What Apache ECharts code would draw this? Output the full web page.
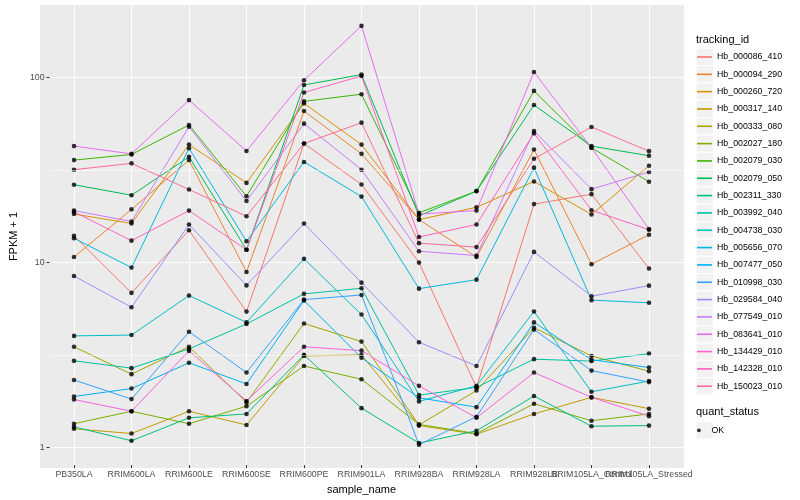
<!DOCTYPE html>
<html><head><meta charset="utf-8">
<script src="https://cdn.jsdelivr.net/npm/echarts@6/dist/echarts.min.js"></script>
<style>html,body{margin:0;padding:0;background:#fff}#c{width:800px;height:500px}</style>
</head><body><div id="c"></div>
<script>
const categories = ['PB350LA','RRIM600LA','RRIM600LE','RRIM600SE','RRIM600PE','RRIM901LA','RRIM928BA','RRIM928LA','RRIM928LB','RRIM105LA_Control','RRIM105LA_Stressed'];
const trackingIds = ['Hb_000086_410','Hb_000094_290','Hb_000260_720','Hb_000317_140','Hb_000333_080','Hb_002027_180','Hb_002079_030','Hb_002079_050','Hb_002311_330','Hb_003992_040','Hb_004738_030','Hb_005656_070','Hb_007477_050','Hb_010998_030','Hb_029584_040','Hb_077549_010','Hb_083641_010','Hb_134429_010','Hb_142328_010','Hb_150023_010'];
const colors = ['#F8766D','#EA8331','#D89000','#C09B00','#A3A500','#7CAE00','#39B600','#00BB4E','#00BF7D','#00C1A3','#00BFC4','#00BAE0','#00B0F6','#35A2FF','#9590FF','#C77CFF','#E76BF3','#FA62DB','#FF62BC','#FF6C91'];

// FPKM + 1 per sample (order of categories)
const Hb_000086_410 = [13.7, 6.7, 14.7, 5.3, 43.6, 26.1, 9.8, 2.05, 20.4, 23.1, 9.1];
const Hb_000094_290 = [10.5, 19.1, 35.4, 8.7, 65.5, 38.3, 16.8, 10.5, 40.4, 9.6, 13.9];
const Hb_000260_720 = [18.0, 16.0, 43.0, 26.6, 72.1, 43.0, 16.8, 19.6, 27.1, 17.9, 33.0];
const Hb_000317_140 = [1.22, 1.15, 1.52, 1.28, 3.04, 3.08, 1.27, 1.14, 1.47, 1.81, 1.57];
const Hb_000333_080 = [3.41, 2.42, 3.41, 1.70, 4.57, 3.64, 1.28, 1.97, 4.33, 3.04, 2.51];
const Hb_002027_180 = [1.30, 1.52, 1.30, 1.62, 2.68, 2.27, 1.29, 1.15, 1.67, 1.35, 1.47];
const Hb_002079_030 = [35.4, 38.0, 55.0, 22.5, 73.9, 80.9, 18.3, 24.0, 84.3, 41.3, 27.0];
const Hb_002079_050 = [26.0, 22.8, 36.9, 11.5, 90.8, 103.4, 17.6, 24.0, 70.6, 42.2, 37.4];
const Hb_002311_330 = [1.25, 1.05, 1.40, 1.47, 3.08, 1.58, 1.02, 1.19, 1.84, 1.26, 1.27];
const Hb_003992_040 = [2.86, 2.61, 3.32, 4.54, 6.62, 7.10, 1.86, 2.05, 2.92, 2.85, 3.13];
const Hb_004738_030 = [3.91, 3.95, 6.48, 4.63, 10.27, 5.11, 1.72, 2.09, 5.31, 1.94, 2.22];
const Hb_005656_070 = [13.3, 9.2, 41.1, 12.8, 34.6, 22.4, 7.07, 7.91, 32.2, 6.12, 5.92];
const Hb_007477_050 = [1.83, 2.02, 2.79, 2.14, 6.09, 2.97, 1.80, 1.60, 4.63, 2.90, 2.63];
const Hb_010998_030 = [2.25, 1.77, 4.12, 2.47, 6.16, 6.53, 1.00, 1.42, 4.23, 2.53, 2.19];
const Hb_029584_040 = [8.28, 5.6, 15.8, 7.36, 16.0, 7.62, 3.61, 2.68, 11.2, 6.43, 7.34];
const Hb_077549_010 = [18.8, 16.4, 53.8, 21.2, 55.9, 31.4, 11.3, 10.7, 51.0, 24.6, 30.5];
const Hb_083641_010 = [42.2, 38.3, 75.1, 39.7, 96.3, 190.5, 18.0, 18.8, 106.9, 41.3, 14.9];
const Hb_134429_010 = [1.76, 1.52, 3.24, 1.73, 3.41, 3.25, 2.09, 1.40, 2.47, 1.81, 1.43];
const Hb_142328_010 = [18.5, 12.9, 18.8, 11.5, 82.6, 101.6, 13.5, 15.8, 49.5, 18.9, 14.8];
const Hb_150023_010 = [31.4, 34.0, 24.5, 17.5, 43.6, 56.6, 12.5, 11.9, 36.0, 53.6, 39.6];

const seriesValues = [Hb_000086_410, Hb_000094_290, Hb_000260_720, Hb_000317_140, Hb_000333_080, Hb_002027_180, Hb_002079_030, Hb_002079_050, Hb_002311_330, Hb_003992_040, Hb_004738_030, Hb_005656_070, Hb_007477_050, Hb_010998_030, Hb_029584_040, Hb_077549_010, Hb_083641_010, Hb_134429_010, Hb_142328_010, Hb_150023_010];
const yTickValues = [1, 10, 100];
const yMinorGridValues = [3.1623, 31.623];
const yMin = 0.774, yMax = 247.4;

const font = '"Liberation Sans", Arial, Helvetica, sans-serif';
const chart = echarts.init(document.getElementById('c'), null, {renderer: 'canvas'});

const points = [];
seriesValues.forEach(vals => vals.forEach((v, i) => points.push([i, v])));

const series = [{
  type: 'line', name: 'minor-grid', xAxisIndex: 0, yAxisIndex: 0, data: [], silent: true, z: 1,
  markLine: {silent: true, symbol: 'none', animation: false, label: {show: false},
    lineStyle: {color: '#fff', width: 0.55, type: 'solid'},
    data: yMinorGridValues.map(v => ({yAxis: v}))}
}];
seriesValues.forEach((vals, k) => series.push({
  type: 'line', name: trackingIds[k], xAxisIndex: 1, yAxisIndex: 1,
  data: vals, showSymbol: false, symbol: 'none', clip: false, silent: true,
  lineStyle: {width: 1, color: colors[k]}, itemStyle: {color: colors[k]}, z: 2
}));
series.push({
  type: 'scatter', name: 'OK', xAxisIndex: 1, yAxisIndex: 1, data: points,
  symbol: 'circle', symbolSize: 4.6, itemStyle: {color: '#000'}, clip: false, silent: true, z: 3
});

const keyH = 17.33, legTop = 48.3, okTop = 421.7;
const graphics = [{type: 'rect', shape: {x: 40, y: 5, width: 644, height: 463}, style: {fill: '#EBEBEB'}, z: -10, silent: true}];
trackingIds.forEach((id, i) => graphics.push({type: 'rect', shape: {x: 696, y: legTop + i * keyH, width: keyH, height: keyH}, style: {fill: '#F2F2F2', stroke: '#fff', lineWidth: 1}, z: -5, silent: true}));
graphics.push({type: 'rect', shape: {x: 696, y: okTop, width: keyH, height: keyH}, style: {fill: '#F2F2F2', stroke: '#fff', lineWidth: 1}, z: -5, silent: true});

chart.setOption({
  animation: false,
  backgroundColor: '#fff',
  textStyle: {fontFamily: font},
  title: [
    {text: 'tracking_id', left: 696, top: 34, padding: 0, textStyle: {fontSize: 11, fontWeight: 'normal', color: '#000', fontFamily: font}},
    {text: 'quant_status', left: 696, top: 406, padding: 0, textStyle: {fontSize: 11, fontWeight: 'normal', color: '#000', fontFamily: font}}
  ],
  legend: [
    {data: trackingIds, orient: 'vertical', left: 697, top: legTop, padding: 0, itemGap: 0, itemWidth: 15, itemHeight: 1.6, icon: 'rect', selectedMode: false,
     textStyle: {fontSize: 8.8, color: '#000', lineHeight: keyH, fontFamily: font}},
    {data: ['OK'], orient: 'vertical', left: 697, top: okTop, padding: 0, itemGap: 0, itemWidth: 15, itemHeight: 3.8, icon: 'circle', selectedMode: false,
     textStyle: {fontSize: 8.8, color: '#000', lineHeight: keyH, fontFamily: font}}
  ],
  graphic: graphics,
  grid: [
    {left: 40, right: 116, top: 5, bottom: 32},
    {left: 74, right: 151, top: 5, bottom: 32}
  ],
  xAxis: [
    {gridIndex: 0, type: 'value', show: false, min: 0, max: 1},
    {gridIndex: 1, type: 'category', data: categories, boundaryGap: false,
     axisLine: {show: false}, axisTick: {show: true, length: 3, lineStyle: {color: '#333'}},
     axisLabel: {interval: 0, hideOverlap: false, color: '#4D4D4D', fontSize: 8.8, margin: 5, fontFamily: font},
     splitLine: {show: true, lineStyle: {color: '#fff', width: 1}},
     name: 'sample_name', nameLocation: 'middle', nameGap: 15, nameTextStyle: {color: '#000', fontSize: 11, fontFamily: font}}
  ],
  yAxis: [
    {gridIndex: 0, type: 'log', logBase: 10, min: yMin, max: yMax,
     axisLine: {show: false},
     axisTick: {show: true, length: 3, lineStyle: {color: '#333'}, customValues: yTickValues},
     axisLabel: {color: '#4D4D4D', fontSize: 8.8, margin: 5, fontFamily: font, customValues: yTickValues, formatter: v => String(v)},
     splitLine: {show: true, lineStyle: {color: '#fff', width: 1}},
     minorSplitLine: {show: false},
     name: 'FPKM + 1', nameLocation: 'middle', nameGap: 21, nameRotate: 90, nameTextStyle: {color: '#000', fontSize: 11, fontFamily: font}},
    {gridIndex: 1, type: 'log', logBase: 10, min: yMin, max: yMax, show: false, splitLine: {show: false}}
  ],
  series: series
});
</script></body></html>
